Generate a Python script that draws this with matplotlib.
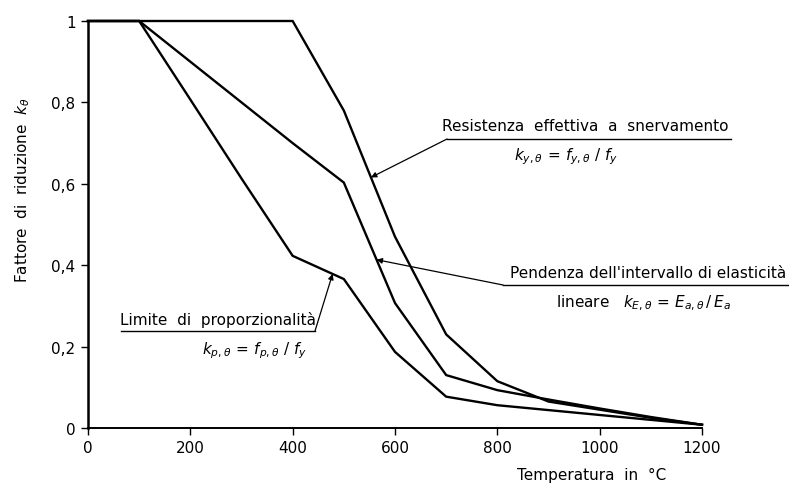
import numpy as np
import matplotlib
matplotlib.use("Agg")
import matplotlib.pyplot as plt
from matplotlib.lines import Line2D

# Temperature (°C) and reduction factors
temperatura = [0, 100, 200, 300, 400, 500, 600, 700, 800, 900, 1000, 1100, 1200]
k_y = [1.0, 1.0, 1.0, 1.0, 1.0, 0.78, 0.47, 0.23, 0.115, 0.065, 0.045, 0.025, 0.008]
k_p = [1.0, 1.0, 0.807, 0.613, 0.423, 0.366, 0.187, 0.077, 0.056, 0.044, 0.032, 0.02, 0.008]
k_E = [1.0, 1.0, 0.9, 0.8, 0.7, 0.603, 0.307, 0.13, 0.093, 0.07, 0.048, 0.027, 0.008]

x_ticks = [0, 200, 400, 600, 800, 1000, 1200]
y_ticks = [0, 0.2, 0.4, 0.6, 0.8, 1.0]
y_tick_labels = ["0", "0,2", "0,4", "0,6", "0,8", "1"]

W, H = 789, 485
fig = plt.figure(figsize=(W / 100, H / 100), dpi=100)
ax = fig.add_axes([88 / W, 1 - 429 / H, (702 - 88) / W, (429 - 22) / H])


def px(x, y):
    # pixel del riferimento (origine in alto a sinistra) -> frazione di figura
    return (x / W, 1 - y / H)


for serie in (k_y, k_p, k_E):
    ax.plot(temperatura, serie, color="black", lw=1.7, clip_on=False, solid_joinstyle="miter")

ax.set_xlim(0, 1200)
ax.set_ylim(0, 1)
ax.set_xticks(x_ticks)
ax.set_xticklabels([str(t) for t in x_ticks], fontsize=11)
ax.set_yticks(y_ticks)
ax.set_yticklabels(y_tick_labels, fontsize=11)
ax.tick_params(direction="out", length=5, width=1.0, pad=4)
for s in ("top", "right"):
    ax.spines[s].set_visible(False)
ax.spines["left"].set_linewidth(1.8)
ax.spines["bottom"].set_linewidth(1.4)

fig.text(*px(23, 190), r"Fattore  di  riduzione  $k_\theta$", rotation=90,
         ha="center", va="center", fontsize=11)
fig.text(*px(592, 475), "Temperatura  in  °C", ha="center", va="center", fontsize=11)

arrow = dict(arrowstyle="-|>", lw=0.9, color="black", mutation_scale=8, shrinkA=0, shrinkB=0)

# Resistenza effettiva a snervamento
t1 = 553
ax.annotate("", xy=(t1, np.interp(t1, temperatura, k_y)), xycoords="data",
            xytext=px(447, 140), textcoords="figure fraction", arrowprops=arrow)
fig.add_artist(Line2D([447 / W, 731 / W], [1 - 140 / H] * 2, color="black", lw=1.0))
fig.text(*px(585, 127), "Resistenza  effettiva  a  snervamento", ha="center", va="center", fontsize=11)
fig.text(*px(566, 157), r"$k_{y,\theta}\,=\,f_{y,\theta}\ /\ f_y$", ha="center", va="center", fontsize=11)

# Pendenza dell'intervallo di elasticità lineare
t2 = 564
ax.annotate("", xy=(t2, np.interp(t2, temperatura, k_E)), xycoords="data",
            xytext=px(503, 286), textcoords="figure fraction", arrowprops=arrow)
fig.add_artist(Line2D([503 / W, 789 / W], [1 - 286 / H] * 2, color="black", lw=1.0))
fig.text(*px(786, 273), "Pendenza dell'intervallo di elasticità", ha="right", va="center", fontsize=11)
fig.text(*px(643, 303), r"lineare   $k_{E,\theta}\,=\,E_{a,\theta}\,/\,E_a$", ha="center", va="center", fontsize=11)

# Limite di proporzionalità
t3 = 478
ax.annotate("", xy=(t3, np.interp(t3, temperatura, k_p)), xycoords="data",
            xytext=px(315, 332), textcoords="figure fraction", arrowprops=arrow)
fig.add_artist(Line2D([121 / W, 315 / W], [1 - 332 / H] * 2, color="black", lw=1.0))
fig.text(*px(218, 320), "Limite  di  proporzionalità", ha="center", va="center", fontsize=11)
fig.text(*px(255, 351), r"$k_{p,\theta}\,=\,f_{p,\theta}\ /\ f_y$", ha="center", va="center", fontsize=11)

fig.savefig("out.png", dpi=100)
